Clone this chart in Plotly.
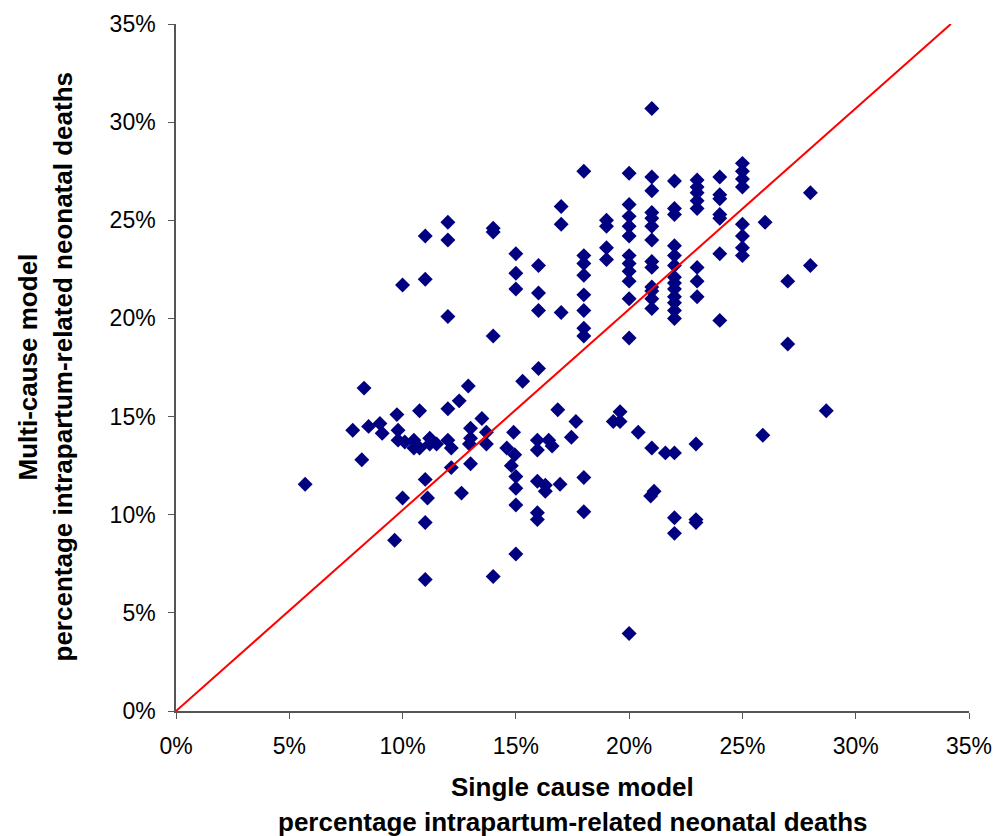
import plotly.graph_objects as go

# Percentage of intrapartum-related neonatal deaths per country:
# single cause model (x) vs multi-cause model (y), in percent
single_cause = [
    12.0, 11.0, 12.0, 14.0, 14.0, 15.0, 15.0, 15.0, 11.0, 10.0, 12.0, 14.0,
    21.0, 18.0, 20.0, 21.0, 21.0, 22.0, 23.0, 23.0, 23.0, 23.0, 23.0,
    24.0, 24.0, 24.0, 24.0, 24.0, 25.0, 25.0, 25.0, 25.0, 28.0, 26.0,
    25.0, 25.0, 25.0, 25.0, 17.0, 17.0, 19.0, 19.0, 19.0, 19.0,
    20.0, 20.0, 20.0, 20.0, 20.0, 20.0, 20.0, 20.0, 20.0, 20.0,
    21.0, 21.0, 21.0, 21.0, 21.0, 21.0, 21.0, 21.0, 21.0, 21.0,
    22.0, 22.0, 22.0, 22.0, 22.0, 22.0, 22.0, 22.0, 22.0, 22.0, 22.0, 22.0,
    23.0, 23.0, 23.0, 24.0, 24.0, 16.0, 16.0, 16.0, 17.0,
    18.0, 18.0, 18.0, 18.0, 18.0, 18.0, 18.0, 27.0, 28.0, 27.0,
    8.3, 12.9, 15.3, 12.5, 12.0, 10.75, 9.75, 13.5, 7.8, 8.5, 9.0, 9.1,
    9.8, 9.8, 10.1, 10.5, 10.5, 10.75, 11.2, 11.2, 11.5, 12.0, 12.15,
    13.0, 13.0, 12.95, 13.7, 13.7, 14.9, 14.6, 14.95, 14.8, 15.0, 15.0,
    15.0, 15.0, 14.0, 11.0, 9.65, 11.0, 10.0, 11.1, 11.0, 12.6, 13.0,
    12.15, 8.2, 5.7,
    16.0, 28.7, 25.9, 22.95, 16.85, 17.65, 17.45, 19.6, 19.3, 19.6, 20.4,
    21.0, 21.6, 22.0, 15.95, 15.95, 16.45, 16.6, 15.95, 16.3, 16.3, 16.95,
    18.0, 18.0, 15.95, 15.95, 21.1, 20.95, 22.0, 22.0, 22.95, 22.95, 20.0,
]
multi_cause = [
    24.9, 24.2, 24.0, 24.4, 24.6, 23.3, 22.3, 21.5, 22.0, 21.7, 20.1, 19.1,
    30.7, 27.5, 27.4, 27.2, 26.5, 27.0, 27.05, 26.7, 26.4, 26.0, 25.6,
    27.2, 26.1, 26.3, 25.1, 25.3, 27.9, 27.5, 27.1, 26.7, 26.4, 24.9,
    24.8, 24.2, 23.6, 23.2, 25.7, 24.8, 25.0, 24.7, 23.6, 23.0,
    25.8, 25.2, 24.7, 24.2, 23.2, 22.8, 22.4, 21.9, 21.0, 19.0,
    25.4, 25.1, 24.7, 24.0, 22.9, 22.6, 21.6, 21.4, 21.0, 20.5,
    25.6, 25.3, 23.7, 23.2, 22.7, 22.1, 21.8, 21.5, 21.1, 20.8, 20.4, 20.0,
    22.6, 21.9, 21.1, 23.3, 19.9, 22.7, 21.3, 20.4, 20.3,
    23.2, 22.8, 22.2, 21.2, 20.4, 19.5, 19.1, 21.9, 22.7, 18.7,
    16.45, 16.56, 16.8, 15.8, 15.4, 15.3, 15.1, 14.9, 14.3, 14.5, 14.65, 14.15,
    14.3, 13.8, 13.7, 13.8, 13.4, 13.4, 13.9, 13.6, 13.6, 13.8, 13.4,
    14.4, 13.9, 13.6, 14.2, 13.6, 14.2, 13.4, 13.05, 12.5, 11.95, 11.35,
    10.5, 8.0, 6.85, 6.7, 8.7, 9.6, 10.85, 10.85, 11.8, 11.1, 12.6,
    12.4, 12.8, 11.55,
    17.45, 15.3, 14.05, 13.6, 15.35, 14.75, 13.95, 15.25, 14.75, 14.75, 14.2,
    13.4, 13.15, 13.15, 13.8, 13.3, 13.8, 13.5, 11.7, 11.5, 11.2, 11.55,
    11.9, 10.15, 10.1, 9.75, 11.2, 10.95, 9.85, 9.05, 9.75, 9.6, 3.95,
]

# Reference line drawn across the plot
ref_line_x = [0.0, 34.2]
ref_line_y = [0.0, 35.0]

tick_vals = [0, 5, 10, 15, 20, 25, 30, 35]
tick_text = ["0%", "5%", "10%", "15%", "20%", "25%", "30%", "35%"]

x_title = ["Single cause model", "percentage intrapartum-related neonatal deaths"]
y_title = ["Multi-cause model", "percentage intrapartum-related neonatal deaths"]

FONT = "Liberation Sans, Arial, sans-serif"

fig = go.Figure()
fig.add_trace(go.Scatter(
    x=single_cause, y=multi_cause, mode="markers",
    marker=dict(symbol="diamond", size=11.5, color="#000080",
                line=dict(width=0)),
    showlegend=False, hoverinfo="x+y",
))
fig.add_trace(go.Scatter(
    x=ref_line_x, y=ref_line_y, mode="lines",
    line=dict(color="#FF0000", width=2),
    showlegend=False, hoverinfo="skip",
))

axis_common = dict(
    range=[0, 35], tickvals=tick_vals, ticktext=tick_text,
    showgrid=False, zeroline=False, showline=True, linecolor="#555555",
    linewidth=1.5, ticks="outside", ticklen=6, tickcolor="#555555",
    tickfont=dict(family=FONT, size=23, color="#000000"),
    fixedrange=True, automargin=False,
)
fig.update_xaxes(**axis_common, ticklabelstandoff=8)
fig.update_yaxes(**axis_common, ticklabelstandoff=8)

annotations = [
    dict(text="<b>%s</b>" % x_title[0], xref="paper", yref="paper", x=0.5, y=0,
         yanchor="middle", xanchor="center", yshift=-76, showarrow=False),
    dict(text="<b>%s</b>" % x_title[1], xref="paper", yref="paper", x=0.5, y=0,
         yanchor="middle", xanchor="center", yshift=-111, showarrow=False),
    dict(text="<b>%s</b>" % y_title[0], xref="paper", yref="paper", x=0, y=0.5,
         xanchor="center", yanchor="middle", xshift=-149, textangle=-90,
         showarrow=False),
    dict(text="<b>%s</b>" % y_title[1], xref="paper", yref="paper", x=0, y=0.5,
         xanchor="center", yanchor="middle", xshift=-114, textangle=-90,
         showarrow=False),
]
for a in annotations:
    a["font"] = dict(family=FONT, size=26, color="#000000")

fig.update_layout(
    width=996, height=836,
    margin=dict(l=176, r=27, t=24, b=125),
    paper_bgcolor="white", plot_bgcolor="white",
    annotations=annotations,
    font=dict(family=FONT),
)

fig.write_html("out.html")
